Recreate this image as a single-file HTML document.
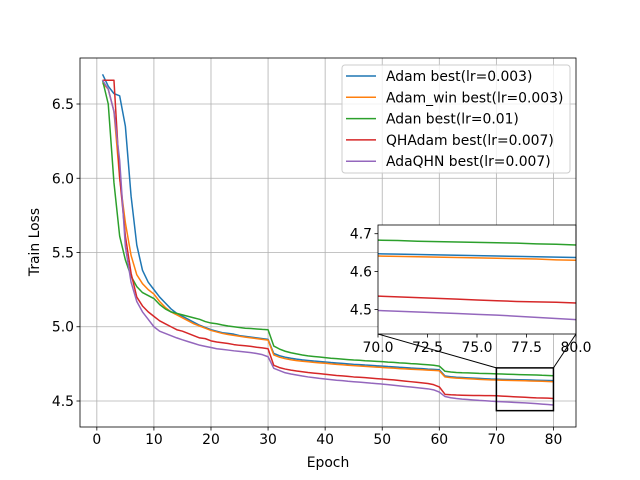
<!DOCTYPE html>
<html><head><meta charset="utf-8"><style>
html,body{margin:0;padding:0;background:#fff}
svg{display:block;font-family:"DejaVu Sans","Liberation Sans",sans-serif}
</style></head><body>
<svg id="chart" width="640" height="480" viewBox="0 0 640 480" xmlns="http://www.w3.org/2000/svg"></svg>
<script>
const seriesNames = ["Adam best(lr=0.003)","Adam_win best(lr=0.003)","Adan best(lr=0.01)","QHAdam best(lr=0.007)","AdaQHN best(lr=0.007)"];
const seriesColors = ["#1f77b4","#ff7f0e","#2ca02c","#d62728","#9467bd"];
const adam = [6.70,6.62,6.57,6.555,6.35,5.88,5.55,5.38,5.30,5.25,
5.20,5.16,5.12,5.09,5.07,5.05,5.03,5.01,4.995,4.98,
4.97,4.96,4.955,4.95,4.94,4.935,4.93,4.925,4.92,4.915,
4.82,4.805,4.795,4.788,4.782,4.777,4.773,4.769,4.766,4.763,
4.759,4.756,4.753,4.750,4.747,4.745,4.742,4.740,4.737,4.735,
4.732,4.730,4.727,4.725,4.722,4.720,4.718,4.715,4.713,4.710,
4.668,4.663,4.660,4.658,4.656,4.654,4.652,4.650,4.648,4.647,
4.646,4.645,4.644,4.643,4.642,4.641,4.640,4.639,4.638,4.637];
const adamWin = [6.64,6.60,6.45,6.00,5.70,5.48,5.35,5.29,5.25,5.22,
5.17,5.13,5.10,5.08,5.06,5.04,5.02,5.005,4.99,4.975,
4.965,4.955,4.948,4.942,4.936,4.93,4.925,4.92,4.915,4.91,
4.81,4.795,4.785,4.778,4.772,4.768,4.764,4.760,4.757,4.754,
4.750,4.747,4.744,4.741,4.738,4.736,4.733,4.731,4.728,4.726,
4.723,4.721,4.718,4.716,4.714,4.712,4.710,4.708,4.706,4.704,
4.662,4.657,4.654,4.652,4.650,4.648,4.646,4.644,4.642,4.641,
4.640,4.639,4.638,4.637,4.636,4.635,4.634,4.633,4.631,4.630];
const adan = [6.66,6.50,5.97,5.61,5.45,5.34,5.27,5.23,5.21,5.19,
5.15,5.12,5.10,5.09,5.08,5.07,5.06,5.05,5.035,5.025,
5.02,5.012,5.005,5.0,4.995,4.99,4.988,4.985,4.982,4.98,
4.87,4.85,4.835,4.825,4.817,4.81,4.804,4.80,4.796,4.792,
4.788,4.785,4.782,4.779,4.776,4.774,4.771,4.769,4.767,4.765,
4.762,4.760,4.757,4.755,4.752,4.750,4.747,4.744,4.741,4.735,
4.700,4.695,4.692,4.690,4.689,4.688,4.686,4.685,4.684,4.683,
4.682,4.680,4.679,4.678,4.677,4.676,4.675,4.673,4.672,4.670];
const qhadam = [6.66,6.66,6.66,6.01,5.61,5.36,5.20,5.14,5.10,5.07,
5.04,5.02,5.00,4.98,4.97,4.955,4.94,4.925,4.92,4.905,
4.897,4.892,4.887,4.880,4.875,4.872,4.868,4.862,4.858,4.852,
4.74,4.725,4.715,4.708,4.702,4.697,4.692,4.688,4.684,4.680,
4.676,4.672,4.669,4.666,4.662,4.660,4.657,4.654,4.651,4.648,
4.645,4.642,4.638,4.634,4.630,4.626,4.622,4.618,4.610,4.595,
4.545,4.542,4.540,4.539,4.538,4.537,4.537,4.536,4.536,4.535,
4.533,4.531,4.529,4.527,4.525,4.523,4.521,4.520,4.519,4.517];
const adaqhn = [6.66,6.60,6.45,6.12,5.54,5.30,5.17,5.10,5.05,5.00,
4.97,4.955,4.94,4.925,4.912,4.90,4.888,4.876,4.868,4.86,
4.852,4.848,4.843,4.838,4.834,4.83,4.826,4.82,4.812,4.798,
4.72,4.705,4.69,4.682,4.675,4.668,4.662,4.657,4.652,4.648,
4.644,4.640,4.637,4.633,4.630,4.627,4.624,4.620,4.617,4.614,
4.610,4.606,4.602,4.598,4.594,4.590,4.586,4.582,4.575,4.56,
4.53,4.522,4.517,4.513,4.510,4.507,4.504,4.502,4.499,4.497,
4.495,4.493,4.491,4.489,4.487,4.485,4.482,4.479,4.476,4.473];
const allSeries = [adam, adamWin, adan, qhadam, adaqhn];
const xTicks = [0,10,20,30,40,50,60,70,80];
const yTicks = [4.5,5.0,5.5,6.0,6.5];
const insetXTicks = [70.0,72.5,75.0,77.5,80.0];
const insetYTicks = [4.5,4.6,4.7];

const NS = "http://www.w3.org/2000/svg";
const svg = document.getElementById("chart");
function mk(tag, attrs, parent){const e=document.createElementNS(NS,tag);for(const k in attrs)e.setAttribute(k,attrs[k]);(parent||svg).appendChild(e);return e;}

const P = {l:80,r:576,t:58,b:427, x0:-2.95, x1:83.95, y0:4.3249, y1:6.8098};
const sx = v => P.l + (v-P.x0)/(P.x1-P.x0)*(P.r-P.l);
const sy = v => P.b - (v-P.y0)/(P.y1-P.y0)*(P.b-P.t);

const grid = mk("g",{});


xTicks.forEach(t=>{
  const x=sx(t);
  mk("line",{x1:x,x2:x,y1:P.t,y2:P.b,stroke:"#b0b0b0","stroke-width":0.8},grid);
  mk("line",{x1:x,x2:x,y1:P.b,y2:P.b+3.5,stroke:"#000","stroke-width":0.8});
  const tx=mk("text",{x:x,y:P.b+17,"text-anchor":"middle",fill:"#000"});
  
  
  tx.textContent=t;
});
yTicks.forEach(t=>{
  const y=sy(t);
  mk("line",{x1:P.l,x2:P.r,y1:y,y2:y,stroke:"#b0b0b0","stroke-width":0.8},grid);
  mk("line",{x1:P.l-3.5,x2:P.l,y1:y,y2:y,stroke:"#000","stroke-width":0.8});
  const tx=mk("text",{x:P.l-6,y:y+5,"text-anchor":"end",fill:"#000"});
  
  
  tx.textContent=t.toFixed(1);
});

function drawLines(parent, fx, fy, clipId){
  allSeries.forEach((s,i)=>{
    const pts=s.map((v,k)=>fx(k+1).toFixed(2)+","+fy(v).toFixed(2)).join(" ");
    const pl=mk("polyline",{points:pts,fill:"none",stroke:seriesColors[i],"stroke-width":1.5,"stroke-linejoin":"round"},parent);
    if(clipId) pl.setAttribute("clip-path","url(#"+clipId+")");
    
    
  });
}
const defs=mk("defs",{});
mk("rect",{x:P.l,y:P.t,width:P.r-P.l,height:P.b-P.t},mk("clipPath",{id:"mainclip"},defs));
const mainG=mk("g",{});


drawLines(mainG,sx,sy,"mainclip");

const I = {l:378,r:576,t:225,b:334,x0:70,x1:80,y0:4.435,y1:4.723};
const ix = v => I.l + (v-I.x0)/(I.x1-I.x0)*(I.r-I.l);
const iy = v => I.b - (v-I.y0)/(I.y1-I.y0)*(I.b-I.t);
const zr=mk("rect",{x:sx(I.x0),y:sy(I.y1),width:sx(I.x1)-sx(I.x0),height:sy(I.y0)-sy(I.y1),fill:"none",stroke:"#000","stroke-width":1.5});


mk("line",{x1:I.l,y1:I.b,x2:sx(I.x0),y2:sy(I.y1),stroke:"#000","stroke-width":1});
mk("line",{x1:I.r,y1:I.b,x2:sx(I.x1),y2:sy(I.y1),stroke:"#000","stroke-width":1});
const inset=mk("g",{});


mk("rect",{x:I.l,y:I.t,width:I.r-I.l,height:I.b-I.t,fill:"#fff"},inset);
mk("rect",{x:I.l,y:I.t,width:I.r-I.l,height:I.b-I.t},mk("clipPath",{id:"insetclip"},defs));
drawLines(inset,ix,iy,"insetclip");
mk("rect",{x:I.l,y:I.t,width:I.r-I.l,height:I.b-I.t,fill:"none",stroke:"#000","stroke-width":0.8},inset);
insetXTicks.forEach(t=>{
  const x=ix(t);
  mk("line",{x1:x,x2:x,y1:I.b,y2:I.b+3.5,stroke:"#000","stroke-width":0.8},inset);
  const tx=mk("text",{x:x,y:I.b+18,"text-anchor":"middle",fill:"#000"},inset);
  
  
  tx.textContent=t.toFixed(1);
});
insetYTicks.forEach(t=>{
  const y=iy(t);
  mk("line",{x1:I.l-3.5,x2:I.l,y1:y,y2:y,stroke:"#000","stroke-width":0.8},inset);
  const tx=mk("text",{x:I.l-6,y:y+5,"text-anchor":"end",fill:"#000"},inset);
  
  
  tx.textContent=t.toFixed(1);
});

const fr=mk("rect",{x:P.l,y:P.t,width:P.r-P.l,height:P.b-P.t,fill:"none",stroke:"#000","stroke-width":0.8});



const xt=mk("text",{x:328,y:467,"text-anchor":"middle",fill:"#000"});


xt.textContent="Epoch";
const yt=mk("text",{x:0,y:0,"text-anchor":"middle",fill:"#000",transform:"translate(39,242) rotate(-90)"});


yt.textContent="Train Loss";

const lg=mk("g",{});


mk("rect",{x:342,y:65,width:228,height:108,rx:3,fill:"#fff","fill-opacity":0.8,stroke:"#ccc","stroke-width":1},lg);
seriesNames.forEach((n,i)=>{
  const y=76+i*21.3;
  const e=mk("g",{},lg);
  
  
  mk("line",{x1:346,x2:376,y1:y,y2:y,stroke:seriesColors[i],"stroke-width":1.5},e);
  const t=mk("text",{x:386,y:y+5,fill:"#000"},e);
  t.textContent=n;
});
svg.querySelectorAll("text").forEach(t=>{t.style.fontSize="13.9px";});
</script>
</body></html>
